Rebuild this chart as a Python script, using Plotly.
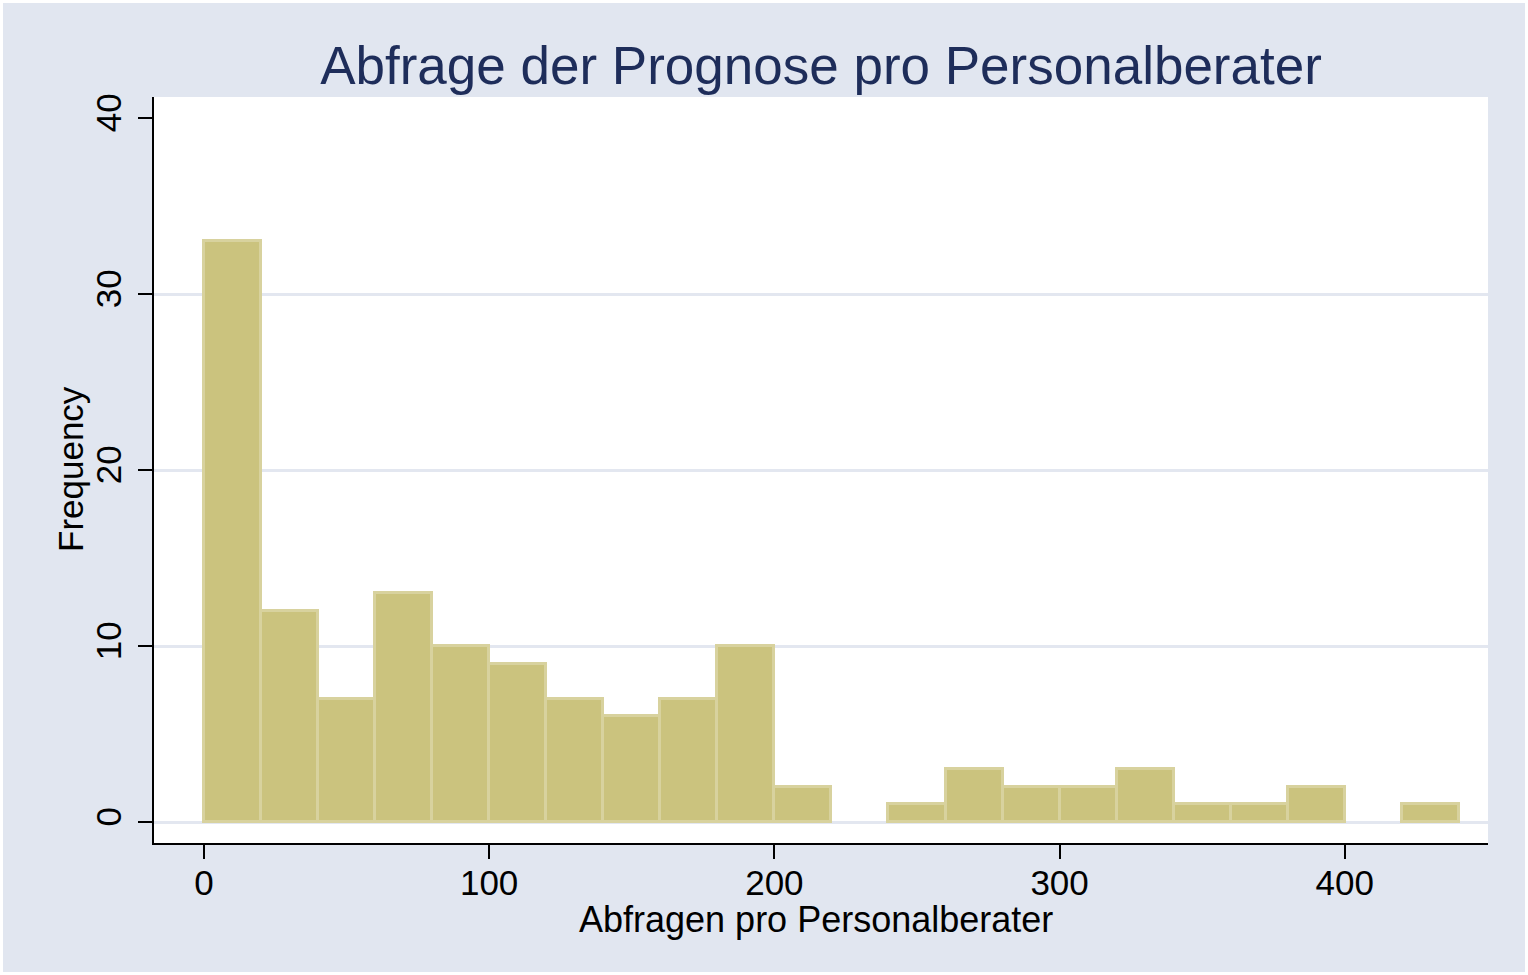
import numpy as np
import plotly.graph_objects as go

# Histogram data (bin width 20)
bin_starts = [0, 20, 40, 60, 80, 100, 120, 140, 160, 180, 200, 220,
              240, 260, 280, 300, 320, 340, 360, 380, 400, 420]
counts = [33, 12, 7, 13, 10, 9, 7, 6, 7, 10, 2, 0,
          1, 3, 2, 2, 3, 1, 1, 2, 0, 1]
bin_width = 20

title_text = "Abfrage der Prognose pro Personalberater"
x_title = "Abfragen pro Personalberater"
y_title = "Frequency"
x_ticks = [0, 100, 200, 300, 400]
y_ticks = [0, 10, 20, 30, 40]
y_grid = [0, 10, 20, 30]

BG = "#E1E6F0"
FILL = "#CBC37E"
EDGE = "#D8D29E"
GRID = "#E3E7F0"

starts = np.array(bin_starts, dtype=float)
cnt = np.array(counts, dtype=float)
mask = cnt > 0
centers = starts[mask] + bin_width / 2

fig = go.Figure()
fig.add_trace(go.Bar(
    x=centers, y=cnt[mask], width=bin_width,
    marker=dict(color=FILL, line=dict(color=EDGE, width=3)),
    hoverinfo="x+y", showlegend=False,
))

W, H = 1528, 975
L, R, T, B = 154, 40, 97, 132
pw, ph = W - L - R, H - T - B

font = "Liberation Sans, Arial, Helvetica, sans-serif"

fig.update_layout(
    width=W, height=H,
    margin=dict(l=L, r=R, t=T, b=B, pad=0),
    paper_bgcolor=BG, plot_bgcolor="white",
    bargap=0,
    font=dict(family=font, color="black", size=36),
    title=dict(text=title_text, x=0.5, xref="paper", xanchor="center",
               y=1 - 65 / H, yref="container", yanchor="middle",
               font=dict(size=53, color="#1E2D5A", family=font)),
    xaxis=dict(range=[-17.5, 450.2], tickvals=x_ticks, showgrid=False,
               zeroline=False, showline=True, linecolor="black", linewidth=2,
               ticks="outside", ticklen=14, tickwidth=2, tickcolor="black",
               tickfont=dict(size=35), ticklabelstandoff=-6),
    yaxis=dict(range=[-1.19, 41.2], tickvals=y_ticks, showgrid=False,
               zeroline=False, showline=True, linecolor="black", linewidth=2,
               ticks="outside", ticklen=14, tickwidth=2, tickcolor="black",
               tickangle=-90, tickfont=dict(size=35), ticklabelstandoff=3),
    yaxis2=dict(overlaying="y", matches="y", tickvals=y_grid, showgrid=True,
                gridcolor=GRID, gridwidth=3, showticklabels=False, ticks="",
                zeroline=False, showline=False, side="left", layer="below traces"),
)

# invisible trace to activate the grid axis
fig.add_trace(go.Scatter(x=[None], y=[None], yaxis="y2", showlegend=False, hoverinfo="skip"))

# axis titles
fig.add_annotation(text=x_title, xref="paper", yref="paper",
                   x=(816 - L) / pw, y=(H - B - 919) / ph,
                   xanchor="center", yanchor="middle", showarrow=False,
                   font=dict(size=36, family=font, color="black"))
fig.add_annotation(text=y_title, xref="paper", yref="paper",
                   x=(70 - L) / pw, y=(H - B - 469) / ph, textangle=-90,
                   xanchor="center", yanchor="middle", showarrow=False,
                   font=dict(size=35, family=font, color="black"))

# thin white frame around the figure
fig.add_shape(type="rect", xref="paper", yref="paper",
              x0=-L / pw, x1=(W - L) / pw, y0=-B / ph, y1=(H - B) / ph,
              line=dict(color="white", width=6), fillcolor="rgba(0,0,0,0)", layer="above")

fig.write_html("out.html", config={"displayModeBar": False},
               post_script="document.body.style.margin='0';document.body.style.overflow='hidden';")
